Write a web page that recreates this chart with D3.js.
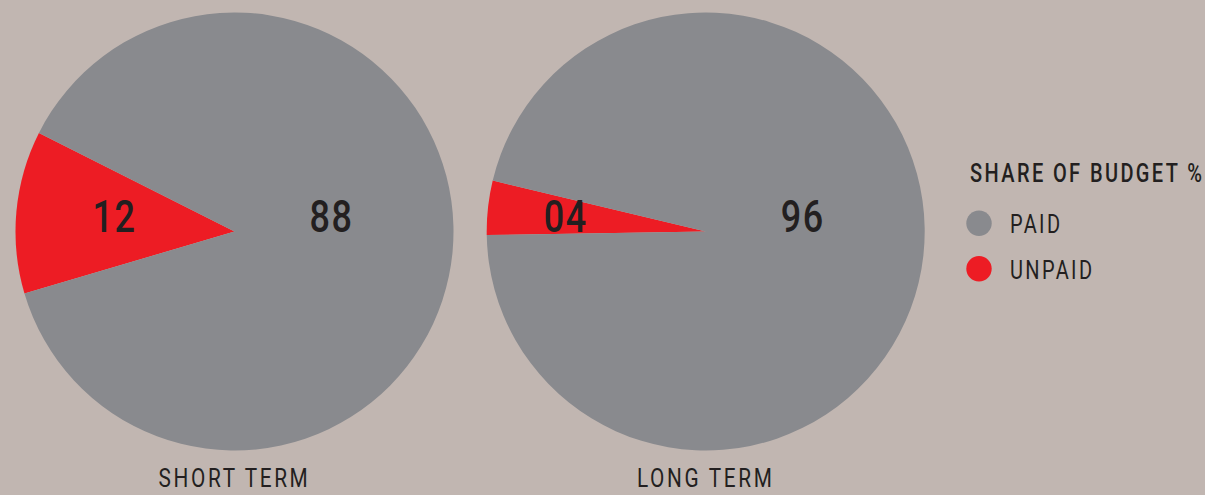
<!DOCTYPE html>
<html>
<head>
<meta charset="utf-8">
<script src="https://cdn.jsdelivr.net/npm/d3@7"></script>
<style>
  html, body { margin: 0; padding: 0; background: #c1b6b1; }
  svg { display: block; }
  text { font-family: Roboto, "DejaVu Sans", sans-serif; fill: #231f20; }
</style>
</head>
<body>
<svg id="chart" width="1205" height="495"></svg>
<script>
// Budget split per term, in percent
const terms = ["SHORT TERM", "LONG TERM"];
const paidShare = [88, 96];
const unpaidShare = [12, 4];
const seriesNames = ["PAID", "UNPAID"];
const legendTitle = "SHARE OF BUDGET %";

// Presentation settings
const W = 1205, H = 495;
const colors = { PAID: "#898a8e", UNPAID: "#ed1c24" };
const radius = 219;
const centerY = 231.5;
const wedgeTiltDeg = [5.15, 6.26];     // unpaid wedge points slightly above 9 o'clock
const unpaidLabelDist = [120, 140];
const paidLabelDx = 97;

const svg = d3.select("#chart");

const x = d3.scalePoint().domain(terms).range([234.5, 705.7]);
const color = d3.scaleOrdinal().domain(seriesNames).range(seriesNames.map(s => colors[s]));
const fmt = d3.format("02d");
const arc = d3.arc().innerRadius(0).outerRadius(radius);

terms.forEach((term, i) => {
  const data = [
    { key: "UNPAID", value: unpaidShare[i] },
    { key: "PAID", value: paidShare[i] }
  ];
  const total = d3.sum(data, d => d.value);
  const unpaidSpan = unpaidShare[i] / total * 2 * Math.PI;
  const mid = (270 + wedgeTiltDeg[i]) * Math.PI / 180;
  const start = mid - unpaidSpan / 2;
  const pie = d3.pie().sort(null).value(d => d.value)
    .startAngle(start).endAngle(start + 2 * Math.PI);

  const g = svg.append("g").attr("transform", `translate(${x(term)},${centerY})`);

  g.selectAll("path")
    .data(pie(data))
    .join("path")
    .attr("d", arc)
    .attr("fill", d => color(d.data.key));

  // value labels, baseline on the pie centre line
  const labelX = { UNPAID: -unpaidLabelDist[i], PAID: paidLabelDx };
  g.selectAll("text.value")
    .data(data)
    .join("text")
    .attr("class", "value")
    .attr("transform", d => `translate(${labelX[d.key]},0) scale(0.8,1)`)
    .attr("text-anchor", "middle")
    .style("font-size", "45px")
    .style("font-weight", 500)
    .style("letter-spacing", "2px")
    .text(d => fmt(d.value));

  // term caption under each pie
  svg.append("text")
    .attr("transform", `translate(${x(term)},487.3) scale(0.8,1)`)
    .attr("text-anchor", "middle")
    .style("font-size", "26px")
    .style("letter-spacing", "3.3px")
    .text(term);
});

// Legend
const legend = svg.append("g").attr("transform", "translate(970,0)");
legend.append("text")
  .attr("transform", "translate(0,182) scale(0.8,1)")
  .style("font-size", "25px")
  .style("font-weight", 500)
  .style("letter-spacing", "3px")
  .text(legendTitle);

const item = legend.selectAll("g.item")
  .data(seriesNames)
  .join("g")
  .attr("class", "item")
  .attr("transform", (d, i) => `translate(0,${223.3 + i * 45.4})`);

item.append("circle")
  .attr("cx", 9)
  .attr("r", 12.7)
  .attr("fill", d => color(d));

item.append("text")
  .attr("transform", "translate(40,10) scale(0.8,1)")
  .style("font-size", "25px")
  .style("letter-spacing", "3px")
  .text(d => d);
</script>
</body>
</html>
